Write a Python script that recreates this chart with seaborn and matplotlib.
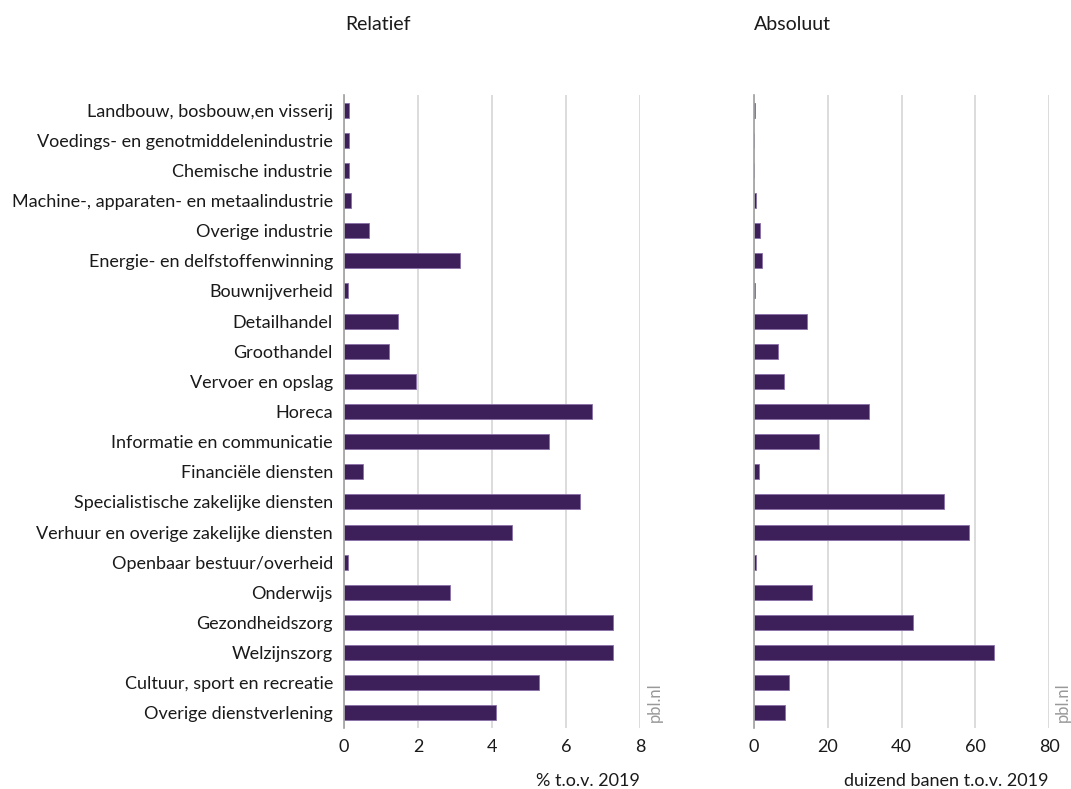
import matplotlib
matplotlib.use('Agg')
import matplotlib.pyplot as plt
import seaborn as sns
import pandas as pd

# data
sectors = ['Landbouw, bosbouw,en visserij', 'Voedings- en genotmiddelenindustrie',
           'Chemische industrie', 'Machine-, apparaten- en metaalindustrie',
           'Overige industrie', 'Energie- en delfstoffenwinning', 'Bouwnijverheid',
           'Detailhandel', 'Groothandel', 'Vervoer en opslag', 'Horeca',
           'Informatie en communicatie', 'Financiële diensten',
           'Specialistische zakelijke diensten', 'Verhuur en overige zakelijke diensten',
           'Openbaar bestuur/overheid', 'Onderwijs', 'Gezondheidszorg', 'Welzijnszorg',
           'Cultuur, sport en recreatie', 'Overige dienstverlening']
relatief = [0.13, 0.13, 0.13, 0.2, 0.68, 3.13, 0.12, 1.47, 1.22, 1.95, 6.69,
            5.54, 0.5, 6.37, 4.54, 0.12, 2.86, 7.26, 7.26, 5.27, 4.1]
absoluut = [0.2, 0.1, 0.0, 0.6, 1.6, 2.3, 0.3, 14.4, 6.4, 8.0, 31.1,
            17.7, 1.4, 51.4, 58.3, 0.5, 15.8, 43.2, 65.1, 9.6, 8.5]
ticks_rel = [0, 2, 4, 6, 8]
ticks_abs = [0, 20, 40, 60, 80]

df = pd.DataFrame({'sector': sectors, 'rel': relatief, 'abs': absoluut})

sns.set_theme(style='white')
plt.rcParams['font.family'] = ['Lato', 'DejaVu Sans']

bar_color = '#3d1f5a'
fig = plt.figure(figsize=(10.71, 7.89), dpi=100)
W, H = 1071, 789
ax1 = fig.add_axes([344 / W, 1 - 728 / H, 296 / W, 633 / H])
ax2 = fig.add_axes([754 / W, 1 - 728 / H, 295 / W, 633 / H])

for ax, col, lim, ticks, xlab in [(ax1, 'rel', 8, ticks_rel, '% t.o.v. 2019'),
                                  (ax2, 'abs', 80, ticks_abs, 'duizend banen t.o.v. 2019')]:
    sns.barplot(data=df, x=col, y='sector', orient='h', color=bar_color,
                width=0.5, edgecolor='#8a6fa8', linewidth=0.6, saturation=1, ax=ax)
    ax.set_xlim(0, lim)
    ax.set_xticks(ticks)
    ax.grid(axis='x', color='#d9d9d9', linewidth=1.3)
    ax.set_axisbelow(True)
    for s in ['top', 'right', 'bottom']:
        ax.spines[s].set_visible(False)
    ax.spines['left'].set_color('#a0a0a0')
    ax.spines['left'].set_linewidth(1.2)
    ax.tick_params(axis='both', length=0, labelsize=13, colors='#1a1a1a')
    ax.tick_params(axis='x', pad=8)
    ax.set_xlabel(xlab, loc='right', fontsize=13, labelpad=13, color='#1a1a1a')
    ax.set_ylabel('')

ax2.set_yticklabels([])
ax1.tick_params(axis='y', pad=8)

fig.text(345 / W, 1 - 25 / H, 'Relatief', fontsize=14, va='center', ha='left', color='#1a1a1a')
fig.text(754 / W, 1 - 25 / H, 'Absoluut', fontsize=14, va='center', ha='left', color='#1a1a1a')
fig.text(655 / W, 1 - 722 / H, 'pbl.nl', rotation=90, fontsize=12, color='#999999',
         va='bottom', ha='center')
fig.text(1063 / W, 1 - 722 / H, 'pbl.nl', rotation=90, fontsize=12, color='#999999',
         va='bottom', ha='center')

fig.savefig('out.png', dpi=100)
